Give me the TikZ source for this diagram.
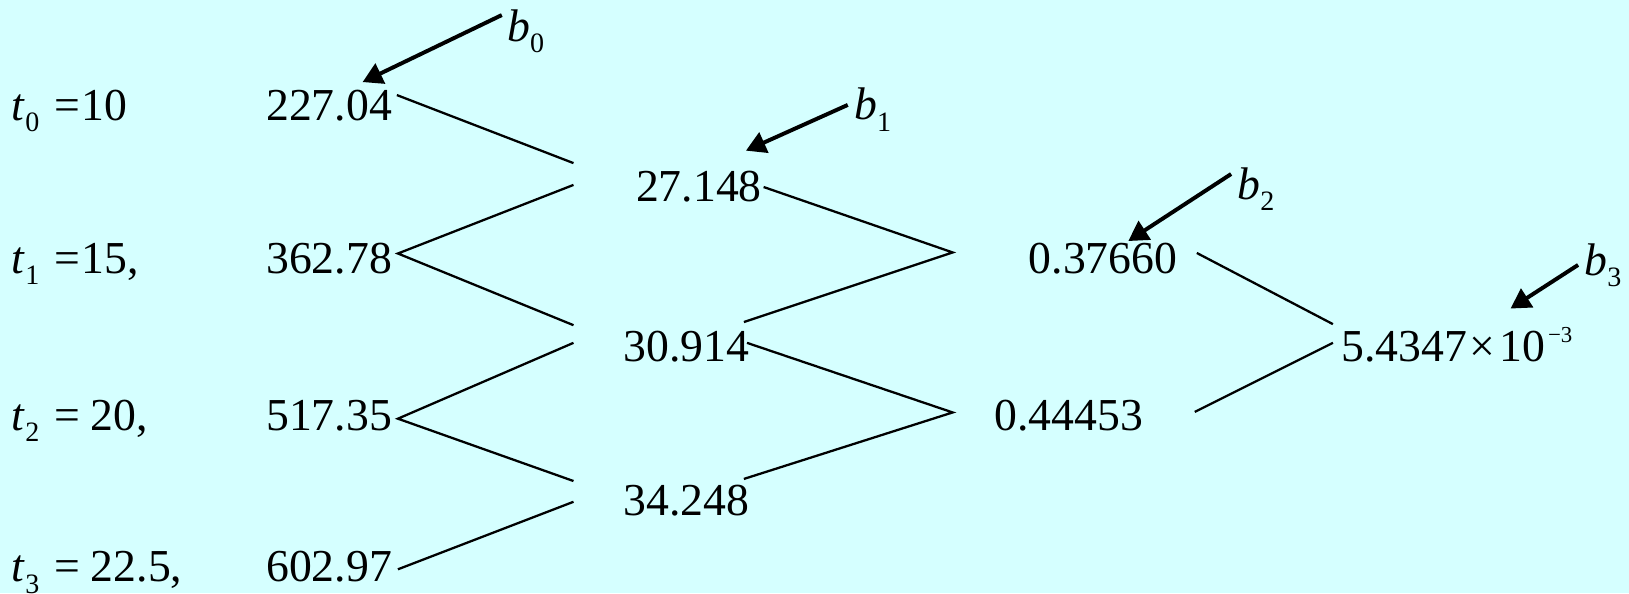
\documentclass[tikz,border=0pt]{standalone}
\usepackage{fontspec}
\setmainfont{Liberation Serif}
\usetikzlibrary{arrows.meta}
\definecolor{bgc}{HTML}{D5FFFF}
\newcommand\lsub[1]{\raisebox{-11pt}{\fontsize{27}{27}\selectfont #1}}
\newcommand\lsup[1]{\raisebox{18pt}{\fontsize{22}{22}\selectfont #1}}
\newcommand\tlab[3]{\makebox[41pt][l]{\textit{t}\lsub{#1}}=\hspace{#2}#3}
\begin{document}
\begin{tikzpicture}[x=1pt,y=-1pt,
  txt/.style={anchor=base west,inner sep=0pt,font=\fontsize{44}{50}\selectfont},
  tree/.style={line width=2.2pt},
  pointer/.style={line width=3.8pt,-{Triangle[length=19pt,width=21pt]}}]
\useasboundingbox (0,0) rectangle (1568,571);
\fill[bgc] (0,0) rectangle (1568,571);
% row labels
\node[txt] (t0) at (11,116) {\tlab{0}{1.5pt}{10}};
\node[txt] (t1) at (11,263) {\tlab{1}{1.5pt}{15,}};
\node[txt] (t2) at (11,414) {\tlab{2}{10.5pt}{20,}};
\node[txt] (t3) at (11,560) {\tlab{3}{10.5pt}{22.5,}};
% column 1
\node[txt] (a0) at (256,116) {227.04};
\node[txt] (a1) at (256,263) {362.78};
\node[txt] (a2) at (256,414) {517.35};
\node[txt] (a3) at (256,560) {602.97};
% column 2
\node[txt] (c0) at (612,194) {27.148};
\node[txt] (c1) at (600,348) {30.914};
\node[txt] (c2) at (600,496) {34.248};
% column 3
\node[txt] (d0) at (990,263) {0.37660};
\node[txt] (d1) at (957,414) {0.44453};
% column 4
\node[txt] (e0) at (1291,348) {5.4347\hspace{2pt}×\hspace{4pt}10\hspace{3pt}\lsup{−3}};
% labels b
\node[txt] (b0) at (488,40) {\textit{b}\lsub{0}};
\node[txt] (b1) at (822,115.5) {\textit{b}\lsub{1}};
\node[txt] (b2) at (1191,192) {\textit{b}\lsub{2}};
\node[txt] (b3) at (1525,265) {\textit{b}\lsub{3}};
% coordinates
\coordinate (p00) at (382,91.5);
\coordinate (q00) at (552,157);
\coordinate (q01) at (552,178);
\coordinate (v1) at (383,244);
\coordinate (q10) at (552,313);
\coordinate (q11) at (552,330);
\coordinate (v2) at (383,403);
\coordinate (q20) at (552,463);
\coordinate (q21) at (552,483);
\coordinate (p3) at (383,548);
\coordinate (r0) at (735,180);
\coordinate (w0) at (917,243);
\coordinate (r1) at (716,310);
\coordinate (r2) at (719,330);
\coordinate (w1) at (917,397);
\coordinate (r3) at (716,461);
\coordinate (s0) at (1152,243.5);
\coordinate (s1) at (1283,312);
\coordinate (s2) at (1150,396.5);
\coordinate (s3) at (1283,330);
% tree lines
\draw[tree] (p00) -- (q00);
\draw[tree] (q01) -- (v1) -- (q10);
\draw[tree] (q11) -- (v2) -- (q20);
\draw[tree] (q21) -- (p3);
\draw[tree] (r0) -- (w0) -- (r1);
\draw[tree] (r2) -- (w1) -- (r3);
\draw[tree] (s0) -- (s1);
\draw[tree] (s2) -- (s3);
% pointers
\coordinate (ta0) at (483,14.5); \coordinate (ha0) at (349,79);
\coordinate (ta1) at (816,101); \coordinate (ha1) at (718,145);
\coordinate (ta2) at (1185,167.5); \coordinate (ha2) at (1086,232);
\coordinate (ta3) at (1519,255); \coordinate (ha3) at (1454,297);
\draw[pointer] (ta0) -- (ha0);
\draw[pointer] (ta1) -- (ha1);
\draw[pointer] (ta2) -- (ha2);
\draw[pointer] (ta3) -- (ha3);
\end{tikzpicture}
\end{document}
